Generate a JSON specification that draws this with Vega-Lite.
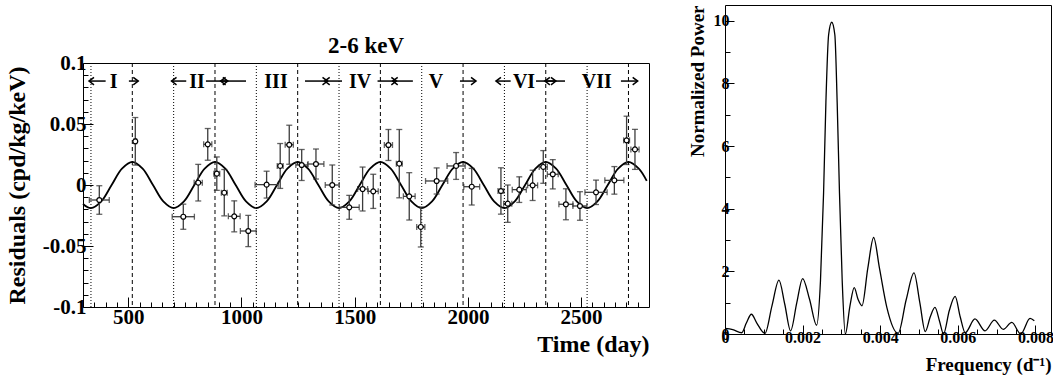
{
  "$schema": "https://vega.github.io/schema/vega-lite/v6.json",
  "padding": {"left": 4, "top": 4, "right": 0, "bottom": 0},
  "spacing": 36,
  "config": {
    "font": "Liberation Serif",
    "view": {"stroke": "black", "strokeWidth": 1},
    "axis": {"domain": false, "grid": false, "labelFont": "Liberation Serif", "labelFontWeight": "bold", "labelColor": "black", "titleFont": "Liberation Serif", "titleFontWeight": "bold", "titleColor": "black", "tickColor": "black", "tickWidth": 1, "labelFlush": false, "labelOverlap": false, "labelBound": false}
  },
  "datasets": {
    "pts": [
      {"t":372,"v":-0.0123,"ex":44,"ey":0.0117},{"t":531,"v":0.0358,"ex":6,"ey":0.0195},{"t":743,"v":-0.026,"ex":49,"ey":0.0103},{"t":809,"v":0.0019,"ex":18,"ey":0.015},{"t":851,"v":0.0333,"ex":18,"ey":0.013},{"t":891,"v":0.0093,"ex":13,"ey":0.0137},{"t":924,"v":-0.0063,"ex":13,"ey":0.019},{"t":968,"v":-0.0257,"ex":26,"ey":0.0127},{"t":1030,"v":-0.0377,"ex":35,"ey":0.0128},{"t":1111,"v":0.0003,"ex":51,"ey":0.011},{"t":1171,"v":0.0156,"ex":13,"ey":0.0184},{"t":1211,"v":0.033,"ex":18,"ey":0.016},{"t":1266,"v":0.0164,"ex":26,"ey":0.0127},{"t":1329,"v":0.0172,"ex":35,"ey":0.0123},{"t":1401,"v":0.0,"ex":31,"ey":0.0164},{"t":1476,"v":-0.0183,"ex":44,"ey":0.0098},{"t":1535,"v":-0.0033,"ex":22,"ey":0.018},{"t":1582,"v":-0.0052,"ex":22,"ey":0.014},{"t":1649,"v":0.0328,"ex":18,"ey":0.0127},{"t":1697,"v":0.0175,"ex":13,"ey":0.028},{"t":1741,"v":-0.0093,"ex":26,"ey":0.0194},{"t":1792,"v":-0.0344,"ex":18,"ey":0.0164},{"t":1862,"v":0.0033,"ex":49,"ey":0.0107},{"t":1948,"v":0.0156,"ex":40,"ey":0.011},{"t":2017,"v":-0.0014,"ex":35,"ey":0.015},{"t":2146,"v":-0.0049,"ex":13,"ey":0.019},{"t":2176,"v":-0.0153,"ex":18,"ey":0.0153},{"t":2227,"v":-0.0038,"ex":31,"ey":0.0105},{"t":2286,"v":-0.0003,"ex":22,"ey":0.0124},{"t":2333,"v":0.0148,"ex":18,"ey":0.0134},{"t":2375,"v":0.0088,"ex":24,"ey":0.012},{"t":2433,"v":-0.0158,"ex":31,"ey":0.0127},{"t":2495,"v":-0.0172,"ex":31,"ey":0.0117},{"t":2566,"v":-0.006,"ex":49,"ey":0.01},{"t":2647,"v":0.0038,"ex":42,"ey":0.0113},{"t":2701,"v":0.0366,"ex":13,"ey":0.0198},{"t":2738,"v":0.0292,"ex":18,"ey":0.0164}
    ],
    "curve": [
      {"t":300,"v":-0.0156},{"t":335.13,"v":-0.019},{"t":380.78,"v":-0.01344},{"t":426.44,"v":0},{"t":472.09,"v":0.01344},{"t":517.75,"v":0.019},{"t":563.41,"v":0.01344},{"t":609.06,"v":0},{"t":654.72,"v":-0.01344},{"t":700.38,"v":-0.019},{"t":746.03,"v":-0.01344},{"t":791.69,"v":0},{"t":837.34,"v":0.01344},{"t":883.0,"v":0.019},{"t":928.66,"v":0.01344},{"t":974.31,"v":0},{"t":1019.97,"v":-0.01344},{"t":1065.63,"v":-0.019},{"t":1111.28,"v":-0.01344},{"t":1156.94,"v":0},{"t":1202.59,"v":0.01344},{"t":1248.25,"v":0.019},{"t":1293.91,"v":0.01344},{"t":1339.56,"v":0},{"t":1385.22,"v":-0.01344},{"t":1430.88,"v":-0.019},{"t":1476.53,"v":-0.01344},{"t":1522.19,"v":0},{"t":1567.84,"v":0.01344},{"t":1613.5,"v":0.019},{"t":1659.16,"v":0.01344},{"t":1704.81,"v":0},{"t":1750.47,"v":-0.01344},{"t":1796.13,"v":-0.019},{"t":1841.78,"v":-0.01344},{"t":1887.44,"v":0},{"t":1933.09,"v":0.01344},{"t":1978.75,"v":0.019},{"t":2024.41,"v":0.01344},{"t":2070.06,"v":0},{"t":2115.72,"v":-0.01344},{"t":2161.38,"v":-0.019},{"t":2207.03,"v":-0.01344},{"t":2252.69,"v":0},{"t":2298.34,"v":0.01344},{"t":2344.0,"v":0.019},{"t":2389.66,"v":0.01344},{"t":2435.31,"v":0},{"t":2480.97,"v":-0.01344},{"t":2526.63,"v":-0.019},{"t":2572.28,"v":-0.01344},{"t":2617.94,"v":0},{"t":2663.59,"v":0.01344},{"t":2709.25,"v":0.019},{"t":2754.91,"v":0.01344},{"t":2790,"v":0.0034}
    ],
    "vlines": [
      {"t":517.75,"kind":"peak"},{"t":883,"kind":"peak"},{"t":1248.25,"kind":"peak"},{"t":1613.5,"kind":"peak"},{"t":1978.75,"kind":"peak"},{"t":2344,"kind":"peak"},{"t":2709.25,"kind":"peak"},
      {"t":335.13,"kind":"trough"},{"t":700.38,"kind":"trough"},{"t":1065.63,"kind":"trough"},{"t":1430.88,"kind":"trough"},{"t":1796.13,"kind":"trough"},{"t":2161.38,"kind":"trough"},{"t":2526.63,"kind":"trough"}
    ],
    "arrows": [
      {"t":400,"h":326.5,"dir":"left"},{"t":502.7,"h":544,"dir":"right"},
      {"t":756,"h":691,"dir":"left"},{"t":843,"h":939.6,"dir":"right"},
      {"t":1020,"h":907.8,"dir":"left"},{"t":1280.6,"h":1380,"dir":"right"},
      {"t":1444,"h":1367.6,"dir":"left"},{"t":1601,"h":1684,"dir":"right"},
      {"t":1757,"h":1668,"dir":"left"},{"t":1965,"h":2036,"dir":"right"},
      {"t":2189,"h":2124,"dir":"left"},{"t":2301,"h":2389,"dir":"right"},
      {"t":2429,"h":2340,"dir":"left"},{"t":2676,"h":2750,"dir":"right"}
    ],
    "cycles": [
      {"t":435.6,"name":"I"},{"t":803.5,"name":"II"},{"t":1152.5,"name":"III"},{"t":1523.5,"name":"IV"},{"t":1859,"name":"V"},{"t":2248,"name":"VI"},{"t":2569,"name":"VII"}
    ],
    "pg": [
      {"f":0,"p":0.18},{"f":0.0002,"p":0.14},{"f":0.00043,"p":0.04},{"f":0.00055,"p":0.35},{"f":0.00068,"p":0.63},{"f":0.00082,"p":0.35},{"f":0.00103,"p":0.02},{"f":0.00121,"p":0.9},{"f":0.00139,"p":1.72},{"f":0.00154,"p":0.95},{"f":0.00169,"p":0.1},{"f":0.00185,"p":1.0},{"f":0.002,"p":1.77},{"f":0.00218,"p":1.1},{"f":0.00236,"p":0.28},{"f":0.00246,"p":1.7},{"f":0.00254,"p":4.5},{"f":0.0026,"p":7.4},{"f":0.00267,"p":9.55},{"f":0.00275,"p":9.95},{"f":0.00283,"p":9.55},{"f":0.00289,"p":7.4},{"f":0.00295,"p":4.5},{"f":0.00302,"p":1.7},{"f":0.0031,"p":0.0},{"f":0.00322,"p":0.9},{"f":0.00333,"p":1.48},{"f":0.00343,"p":1.1},{"f":0.00353,"p":0.9},{"f":0.00368,"p":2.1},{"f":0.00383,"p":3.08},{"f":0.00398,"p":2.1},{"f":0.00417,"p":0.85},{"f":0.00446,"p":0.02},{"f":0.00467,"p":1.1},{"f":0.00487,"p":1.95},{"f":0.00502,"p":1.0},{"f":0.00516,"p":0.08},{"f":0.00529,"p":0.55},{"f":0.00541,"p":0.85},{"f":0.00553,"p":0.4},{"f":0.00563,"p":0.0},{"f":0.00578,"p":0.75},{"f":0.00593,"p":1.2},{"f":0.00606,"p":0.55},{"f":0.00619,"p":0.04},{"f":0.00644,"p":0.48},{"f":0.0067,"p":0.1},{"f":0.00694,"p":0.44},{"f":0.00717,"p":0.15},{"f":0.00739,"p":0.37},{"f":0.00762,"p":0.0},{"f":0.00786,"p":0.5},{"f":0.00797,"p":0.42}
    ]
  },
  "hconcat": [
    {
      "spacing": 0,
      "bounds": "flush",
      "vconcat": [
        {
          "width": 566,
          "height": 58,
          "view": {"stroke": null},
          "data": {"values": []},
          "mark": "point"
        },
        {
          "width": 566,
          "height": 244,
          "title": {"text": "2-6 keV", "fontSize": 23, "font": "Liberation Serif", "fontWeight": "bold", "offset": -6, "anchor": "middle", "frame": "group", "color": "black"},
          "layer": [
            {
              "data": {"name": "vlines"},
              "mark": {"type": "rule", "color": "black", "strokeWidth": 1},
              "encoding": {
                "x": {"field": "t", "type": "quantitative", "scale": {"domain": [300, 2800], "nice": false, "zero": false},
                  "axis": {"values": [300,350,400,450,500,550,600,650,700,750,800,850,900,950,1000,1050,1100,1150,1200,1250,1300,1350,1400,1450,1500,1550,1600,1650,1700,1750,1800,1850,1900,1950,2000,2050,2100,2150,2200,2250,2300,2350,2400,2450,2500,2550,2600,2650,2700,2750], "labelExpr": "datum.value % 500 === 0 ? format(datum.value, 'd') : ''", "tickSize": {"condition": {"test": "datum.value % 500 === 0", "value": -10}, "value": -5}, "labelFontSize": 21, "labelPadding": 9, "labelOverlap": false, "labelFlush": false, "labelBound": false, "title": "Time (day)", "titleFontSize": 24, "titleAnchor": "end", "titlePadding": 0}},
                "strokeDash": {"field": "kind", "type": "nominal", "scale": {"domain": ["peak", "trough"], "range": [[4, 3], [1, 2]]}, "legend": null}
              }
            },
            {
              "mark": {"type": "rule", "color": "#7f7f7f", "strokeWidth": 1.6},
              "encoding": {"y": {"datum": 0, "type": "quantitative", "scale": {"domain": [-0.1, 0.1], "nice": false, "zero": false},
                "axis": {"values": [-0.1,-0.09,-0.08,-0.07,-0.06,-0.05,-0.04,-0.03,-0.02,-0.01,0,0.01,0.02,0.03,0.04,0.05,0.06,0.07,0.08,0.09,0.1], "labelExpr": "abs(round(datum.value*100)) % 5 === 0 ? (datum.value < 0 ? '-' : '') + format(abs(datum.value), '~g') : ''", "tickSize": {"condition": {"test": "abs(round(datum.value*100)) % 5 === 0", "value": -10}, "value": -5}, "labelFontSize": 21, "labelPadding": 7, "labelOverlap": false, "labelFlush": false, "labelBound": false, "title": "Residuals (cpd/kg/keV)", "titleFontSize": 24, "titlePadding": 13}}}
            },
            {
              "data": {"name": "curve"},
              "mark": {"type": "line", "color": "black", "strokeWidth": 1.8, "interpolate": "catmull-rom"},
              "encoding": {
                "x": {"field": "t", "type": "quantitative", "scale": {"domain": [300, 2800], "nice": false, "zero": false},
                  "axis": {"values": [300,350,400,450,500,550,600,650,700,750,800,850,900,950,1000,1050,1100,1150,1200,1250,1300,1350,1400,1450,1500,1550,1600,1650,1700,1750,1800,1850,1900,1950,2000,2050,2100,2150,2200,2250,2300,2350,2400,2450,2500,2550,2600,2650,2700,2750], "labelExpr": "datum.value % 500 === 0 ? format(datum.value, 'd') : ''", "tickSize": {"condition": {"test": "datum.value % 500 === 0", "value": -10}, "value": -5}, "labelFontSize": 21, "labelPadding": 9, "labelOverlap": false, "labelFlush": false, "labelBound": false, "title": "Time (day)", "titleFontSize": 24, "titleAnchor": "end", "titlePadding": 0}},
                "y": {"field": "v", "type": "quantitative", "scale": {"domain": [-0.1, 0.1], "nice": false, "zero": false},
                  "axis": {"values": [-0.1,-0.09,-0.08,-0.07,-0.06,-0.05,-0.04,-0.03,-0.02,-0.01,0,0.01,0.02,0.03,0.04,0.05,0.06,0.07,0.08,0.09,0.1], "labelExpr": "abs(round(datum.value*100)) % 5 === 0 ? (datum.value < 0 ? '-' : '') + format(abs(datum.value), '~g') : ''", "tickSize": {"condition": {"test": "abs(round(datum.value*100)) % 5 === 0", "value": -10}, "value": -5}, "labelFontSize": 21, "labelPadding": 7, "labelOverlap": false, "labelFlush": false, "labelBound": false, "title": "Residuals (cpd/kg/keV)", "titleFontSize": 24, "titlePadding": 13}}
              }
            },
            {
              "data": {"name": "pts"},
              "mark": {"type": "errorbar", "color": "#3c3c3c", "thickness": 1.3, "ticks": {"size": 6, "color": "#222"}},
              "encoding": {
                "x": {"field": "t", "type": "quantitative",
                  "axis": {"values": [300,350,400,450,500,550,600,650,700,750,800,850,900,950,1000,1050,1100,1150,1200,1250,1300,1350,1400,1450,1500,1550,1600,1650,1700,1750,1800,1850,1900,1950,2000,2050,2100,2150,2200,2250,2300,2350,2400,2450,2500,2550,2600,2650,2700,2750], "labelExpr": "datum.value % 500 === 0 ? format(datum.value, 'd') : ''", "tickSize": {"condition": {"test": "datum.value % 500 === 0", "value": -10}, "value": -5}, "labelFontSize": 21, "labelPadding": 9, "labelOverlap": false, "labelFlush": false, "labelBound": false, "title": "Time (day)", "titleFontSize": 24, "titleAnchor": "end", "titlePadding": 0}},
                "y": {"field": "v", "type": "quantitative",
                  "axis": {"values": [-0.1,-0.09,-0.08,-0.07,-0.06,-0.05,-0.04,-0.03,-0.02,-0.01,0,0.01,0.02,0.03,0.04,0.05,0.06,0.07,0.08,0.09,0.1], "labelExpr": "abs(round(datum.value*100)) % 5 === 0 ? (datum.value < 0 ? '-' : '') + format(abs(datum.value), '~g') : ''", "tickSize": {"condition": {"test": "abs(round(datum.value*100)) % 5 === 0", "value": -10}, "value": -5}, "labelFontSize": 21, "labelPadding": 7, "labelOverlap": false, "labelFlush": false, "labelBound": false, "title": "Residuals (cpd/kg/keV)", "titleFontSize": 24, "titlePadding": 13}},
                "yError": {"field": "ey"}
              }
            },
            {
              "data": {"name": "pts"},
              "mark": {"type": "errorbar", "color": "#3c3c3c", "thickness": 1.3, "ticks": {"size": 6, "color": "#222"}},
              "encoding": {
                "y": {"field": "v", "type": "quantitative",
                  "axis": {"values": [-0.1,-0.09,-0.08,-0.07,-0.06,-0.05,-0.04,-0.03,-0.02,-0.01,0,0.01,0.02,0.03,0.04,0.05,0.06,0.07,0.08,0.09,0.1], "labelExpr": "abs(round(datum.value*100)) % 5 === 0 ? (datum.value < 0 ? '-' : '') + format(abs(datum.value), '~g') : ''", "tickSize": {"condition": {"test": "abs(round(datum.value*100)) % 5 === 0", "value": -10}, "value": -5}, "labelFontSize": 21, "labelPadding": 7, "labelOverlap": false, "labelFlush": false, "labelBound": false, "title": "Residuals (cpd/kg/keV)", "titleFontSize": 24, "titlePadding": 13}},
                "x": {"field": "t", "type": "quantitative",
                  "axis": {"values": [300,350,400,450,500,550,600,650,700,750,800,850,900,950,1000,1050,1100,1150,1200,1250,1300,1350,1400,1450,1500,1550,1600,1650,1700,1750,1800,1850,1900,1950,2000,2050,2100,2150,2200,2250,2300,2350,2400,2450,2500,2550,2600,2650,2700,2750], "labelExpr": "datum.value % 500 === 0 ? format(datum.value, 'd') : ''", "tickSize": {"condition": {"test": "datum.value % 500 === 0", "value": -10}, "value": -5}, "labelFontSize": 21, "labelPadding": 9, "labelOverlap": false, "labelFlush": false, "labelBound": false, "title": "Time (day)", "titleFontSize": 24, "titleAnchor": "end", "titlePadding": 0}},
                "xError": {"field": "ex"}
              }
            },
            {
              "data": {"name": "pts"},
              "mark": {"type": "point", "filled": true, "fill": "white", "stroke": "black", "strokeWidth": 1.2, "size": 24, "opacity": 1},
              "encoding": {
                "x": {"field": "t", "type": "quantitative",
                  "axis": {"values": [300,350,400,450,500,550,600,650,700,750,800,850,900,950,1000,1050,1100,1150,1200,1250,1300,1350,1400,1450,1500,1550,1600,1650,1700,1750,1800,1850,1900,1950,2000,2050,2100,2150,2200,2250,2300,2350,2400,2450,2500,2550,2600,2650,2700,2750], "labelExpr": "datum.value % 500 === 0 ? format(datum.value, 'd') : ''", "tickSize": {"condition": {"test": "datum.value % 500 === 0", "value": -10}, "value": -5}, "labelFontSize": 21, "labelPadding": 9, "labelOverlap": false, "labelFlush": false, "labelBound": false, "title": "Time (day)", "titleFontSize": 24, "titleAnchor": "end", "titlePadding": 0}},
                "y": {"field": "v", "type": "quantitative",
                  "axis": {"values": [-0.1,-0.09,-0.08,-0.07,-0.06,-0.05,-0.04,-0.03,-0.02,-0.01,0,0.01,0.02,0.03,0.04,0.05,0.06,0.07,0.08,0.09,0.1], "labelExpr": "abs(round(datum.value*100)) % 5 === 0 ? (datum.value < 0 ? '-' : '') + format(abs(datum.value), '~g') : ''", "tickSize": {"condition": {"test": "abs(round(datum.value*100)) % 5 === 0", "value": -10}, "value": -5}, "labelFontSize": 21, "labelPadding": 7, "labelOverlap": false, "labelFlush": false, "labelBound": false, "title": "Residuals (cpd/kg/keV)", "titleFontSize": 24, "titlePadding": 13}}
              }
            },
            {
              "data": {"name": "arrows"},
              "mark": {"type": "rule", "color": "black", "strokeWidth": 1.5},
              "encoding": {
                "x": {"field": "t", "type": "quantitative",
                  "axis": {"values": [300,350,400,450,500,550,600,650,700,750,800,850,900,950,1000,1050,1100,1150,1200,1250,1300,1350,1400,1450,1500,1550,1600,1650,1700,1750,1800,1850,1900,1950,2000,2050,2100,2150,2200,2250,2300,2350,2400,2450,2500,2550,2600,2650,2700,2750], "labelExpr": "datum.value % 500 === 0 ? format(datum.value, 'd') : ''", "tickSize": {"condition": {"test": "datum.value % 500 === 0", "value": -10}, "value": -5}, "labelFontSize": 21, "labelPadding": 9, "labelOverlap": false, "labelFlush": false, "labelBound": false, "title": "Time (day)", "titleFontSize": 24, "titleAnchor": "end", "titlePadding": 0}},
                "x2": {"field": "h"},
                "y": {"datum": 0.0852, "type": "quantitative",
                  "axis": {"values": [-0.1,-0.09,-0.08,-0.07,-0.06,-0.05,-0.04,-0.03,-0.02,-0.01,0,0.01,0.02,0.03,0.04,0.05,0.06,0.07,0.08,0.09,0.1], "labelExpr": "abs(round(datum.value*100)) % 5 === 0 ? (datum.value < 0 ? '-' : '') + format(abs(datum.value), '~g') : ''", "tickSize": {"condition": {"test": "abs(round(datum.value*100)) % 5 === 0", "value": -10}, "value": -5}, "labelFontSize": 21, "labelPadding": 7, "labelOverlap": false, "labelFlush": false, "labelBound": false, "title": "Residuals (cpd/kg/keV)", "titleFontSize": 24, "titlePadding": 13}}
              }
            },
            {
              "data": {"name": "arrows"},
              "mark": {"type": "point", "filled": false, "stroke": "black", "strokeWidth": 1.5, "size": 100, "opacity": 1},
              "encoding": {
                "x": {"field": "h", "type": "quantitative",
                  "axis": {"values": [300,350,400,450,500,550,600,650,700,750,800,850,900,950,1000,1050,1100,1150,1200,1250,1300,1350,1400,1450,1500,1550,1600,1650,1700,1750,1800,1850,1900,1950,2000,2050,2100,2150,2200,2250,2300,2350,2400,2450,2500,2550,2600,2650,2700,2750], "labelExpr": "datum.value % 500 === 0 ? format(datum.value, 'd') : ''", "tickSize": {"condition": {"test": "datum.value % 500 === 0", "value": -10}, "value": -5}, "labelFontSize": 21, "labelPadding": 9, "labelOverlap": false, "labelFlush": false, "labelBound": false, "title": "Time (day)", "titleFontSize": 24, "titleAnchor": "end", "titlePadding": 0}},
                "y": {"datum": 0.0852, "type": "quantitative",
                  "axis": {"values": [-0.1,-0.09,-0.08,-0.07,-0.06,-0.05,-0.04,-0.03,-0.02,-0.01,0,0.01,0.02,0.03,0.04,0.05,0.06,0.07,0.08,0.09,0.1], "labelExpr": "abs(round(datum.value*100)) % 5 === 0 ? (datum.value < 0 ? '-' : '') + format(abs(datum.value), '~g') : ''", "tickSize": {"condition": {"test": "abs(round(datum.value*100)) % 5 === 0", "value": -10}, "value": -5}, "labelFontSize": 21, "labelPadding": 7, "labelOverlap": false, "labelFlush": false, "labelBound": false, "title": "Residuals (cpd/kg/keV)", "titleFontSize": 24, "titlePadding": 13}},
                "shape": {"field": "dir", "type": "nominal", "scale": {"domain": ["right", "left"], "range": ["M -1 -0.75 L 0 0 L -1 0.75", "M 1 -0.75 L 0 0 L 1 0.75"]}, "legend": null}
              }
            },
            {
              "data": {"name": "cycles"},
              "mark": {"type": "text", "font": "Liberation Serif", "fontWeight": "bold", "fontSize": 20, "color": "black", "baseline": "middle", "align": "center", "dy": 1},
              "encoding": {
                "x": {"field": "t", "type": "quantitative",
                  "axis": {"values": [300,350,400,450,500,550,600,650,700,750,800,850,900,950,1000,1050,1100,1150,1200,1250,1300,1350,1400,1450,1500,1550,1600,1650,1700,1750,1800,1850,1900,1950,2000,2050,2100,2150,2200,2250,2300,2350,2400,2450,2500,2550,2600,2650,2700,2750], "labelExpr": "datum.value % 500 === 0 ? format(datum.value, 'd') : ''", "tickSize": {"condition": {"test": "datum.value % 500 === 0", "value": -10}, "value": -5}, "labelFontSize": 21, "labelPadding": 9, "labelOverlap": false, "labelFlush": false, "labelBound": false, "title": "Time (day)", "titleFontSize": 24, "titleAnchor": "end", "titlePadding": 0}},
                "y": {"datum": 0.0852, "type": "quantitative",
                  "axis": {"values": [-0.1,-0.09,-0.08,-0.07,-0.06,-0.05,-0.04,-0.03,-0.02,-0.01,0,0.01,0.02,0.03,0.04,0.05,0.06,0.07,0.08,0.09,0.1], "labelExpr": "abs(round(datum.value*100)) % 5 === 0 ? (datum.value < 0 ? '-' : '') + format(abs(datum.value), '~g') : ''", "tickSize": {"condition": {"test": "abs(round(datum.value*100)) % 5 === 0", "value": -10}, "value": -5}, "labelFontSize": 21, "labelPadding": 7, "labelOverlap": false, "labelFlush": false, "labelBound": false, "title": "Residuals (cpd/kg/keV)", "titleFontSize": 24, "titlePadding": 13}},
                "text": {"field": "name"}
              }
            }
          ]
        }
      ]
    },
    {
      "width": 326,
      "height": 329,
      "data": {"name": "pg"},
      "mark": {"type": "line", "color": "black", "strokeWidth": 1.3, "interpolate": "monotone"},
      "encoding": {
        "x": {"field": "f", "type": "quantitative", "scale": {"domain": [0, 0.0084], "nice": false, "zero": false},
          "axis": {"values": [0,0.0005,0.001,0.0015,0.002,0.0025,0.003,0.0035,0.004,0.0045,0.005,0.0055,0.006,0.0065,0.007,0.0075,0.008],
            "labelExpr": "abs(round(datum.value*10000)) % 20 === 0 ? format(datum.value, '~g') : ''",
            "tickSize": {"condition": {"test": "abs(round(datum.value*10000)) % 20 === 0", "value": -9}, "value": -5},
            "labelFontSize": 16, "labelPadding": 4, "labelOverlap": false, "labelFlush": false, "labelBound": false,
            "title": "Frequency (d⁻¹)", "titleFontSize": 19, "titleAnchor": "end", "titlePadding": 6}},
        "y": {"field": "p", "type": "quantitative", "scale": {"domain": [0, 10.5], "nice": false, "zero": false},
          "axis": {"values": [0,1,2,3,4,5,6,7,8,9,10],
            "labelExpr": "datum.value % 2 === 0 ? format(datum.value, 'd') : ''",
            "tickSize": {"condition": {"test": "datum.value % 2 === 0", "value": -9}, "value": -5},
            "labelFontSize": 16, "labelPadding": 5, "labelOverlap": false, "labelFlush": false, "labelBound": false,
            "title": "Normalized Power", "titleFontSize": 19, "titleAnchor": "end", "titlePadding": 6}}
      }
    }
  ]
}
